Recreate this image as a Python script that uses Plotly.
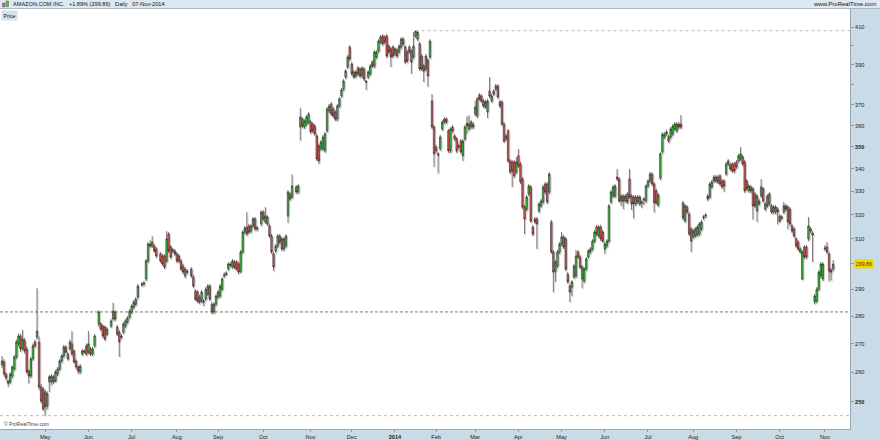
import math
import plotly.graph_objects as go

# ---------------- data ----------------
days = [*range(0, 46), *range(47, 52), *range(53, 67), *range(68, 76),
        *range(77, 91), *range(92, 125), *range(126, 142), *range(143, 405)]

opens = [
262.5, 263.6, 259.4, 257.0, 256.7, 258.7, 261.1, 265.3, 269.9, 272.7,
268.1, 271.0, 268.1, 260.4, 258.7, 264.6, 270.6, 272.3, 270.6, 255.0,
254.3, 253.3, 248.7, 256.7, 256.7, 258.4, 257.0, 259.4, 261.1, 263.9,
265.6, 268.8, 266.3, 268.1, 269.9, 267.4, 263.9, 261.8, 260.1, 266.3,
267.4, 269.2, 267.0, 268.1, 266.3, 269.2, 277.1, 277.1, 276.3, 276.0,
273.4, 276.3, 278.9, 281.5, 276.0, 274.1, 272.7, 274.1, 276.3, 277.8,
279.6, 281.5, 283.3, 284.4, 287.1, 291.7, 292.1, 294.0, 301.1, 307.9,
307.1, 307.1, 305.9, 303.9, 303.1, 303.1, 301.1, 312.0, 306.7, 305.1,
305.1, 303.9, 303.1, 301.1, 299.1, 295.2, 297.1, 297.9, 294.8, 289.4,
289.0, 287.1, 285.6, 285.6, 286.3, 288.2, 291.3, 284.4, 281.5, 284.4,
287.1, 287.5, 290.1, 295.2, 296.3, 297.9, 299.9, 298.7, 300.7, 300.7,
299.9, 297.1, 304.7, 312.8, 314.9, 315.3, 313.2, 315.3, 318.3, 314.1,
316.2, 321.2, 317.0, 316.2, 315.3, 311.2, 303.9, 305.1, 307.1, 311.2,
310.0, 305.9, 307.1, 319.5, 328.9, 327.6, 332.0, 329.8, 359.3, 363.1,
359.3, 360.7, 361.7, 361.7, 360.7, 359.8, 355.1, 350.5, 349.1, 349.1,
348.2, 357.5, 367.0, 370.4, 368.0, 366.5, 363.1, 369.4, 374.3, 377.8,
383.8, 388.9, 399.3, 390.5, 386.4, 384.4, 388.4, 387.9, 384.4, 387.9,
381.8, 383.8, 385.4, 391.5, 389.4, 394.1, 397.2, 402.0, 405.2, 404.6,
405.2, 399.8, 398.3, 399.3, 395.7, 397.7, 396.7, 399.3, 403.5, 399.3,
396.7, 399.3, 397.2, 394.1, 405.2, 403.5, 401.0, 394.6, 389.4, 387.9,
392.5, 394.1, 371.9, 359.3, 350.0, 346.8, 349.1, 358.4, 363.1, 363.1,
357.5, 348.2, 359.3, 355.1, 353.7, 350.5, 352.7, 345.9, 353.7, 361.2,
358.4, 359.3, 360.7, 365.5, 364.6, 374.8, 374.3, 371.9, 368.9, 366.5,
376.8, 371.9, 376.8, 377.8, 379.3, 371.4, 371.4, 360.7, 353.7, 357.5,
343.6, 343.1, 343.1, 338.6, 345.9, 342.2, 335.5, 323.3, 322.4, 328.9,
332.0, 314.9, 318.3, 318.3, 321.6, 323.8, 325.5, 333.3, 333.3, 329.8,
317.0, 304.7, 297.1, 299.1, 304.7, 307.9, 310.8, 310.0, 295.9, 291.3,
290.9, 294.8, 295.2, 304.7, 302.7, 294.0, 293.2, 297.9, 302.7, 304.7,
305.9, 309.1, 314.9, 311.2, 314.9, 312.8, 305.9, 307.1, 309.1, 325.5,
328.0, 328.0, 336.4, 335.5, 325.9, 328.0, 325.9, 328.9, 335.5, 328.0,
327.6, 324.6, 327.6, 324.6, 325.5, 326.8, 326.0, 332.4, 334.6, 337.7,
333.3, 330.3, 324.2, 335.9, 347.7, 354.6, 356.1, 354.6, 354.6, 356.1,
358.4, 357.5, 360.7, 360.7, 325.1, 317.4, 323.3, 320.3, 314.1, 310.8,
311.2, 311.6, 312.0, 314.1, 318.7, 319.5, 328.0, 327.6, 332.0, 336.4,
334.6, 336.4, 336.9, 334.6, 334.6, 337.7, 342.2, 341.8, 342.2, 342.2,
343.1, 343.6, 344.5, 345.4, 343.1, 334.6, 330.3, 332.0, 331.2, 328.9,
321.6, 325.9, 328.0, 331.2, 322.4, 328.0, 324.6, 323.8, 321.2, 321.2,
322.4, 319.5, 319.1, 321.2, 323.8, 323.3, 322.4, 315.3, 314.1, 310.0,
308.7, 304.7, 294.0, 306.7, 306.7, 310.0, 314.1, 312.4, 285.2, 285.6,
290.1, 295.2, 294.0, 305.9, 306.7, 303.9, 297.5, 297.9]

highs = [
265.6, 264.5, 259.8, 257.5, 260.0, 262.3, 266.0, 271.5, 273.7, 273.5,
275.0, 272.0, 269.0, 261.0, 265.3, 270.0, 271.5, 290.5, 272.5, 256.0,
255.0, 254.0, 253.5, 259.0, 259.5, 259.0, 260.8, 261.8, 264.5, 266.3,
269.5, 269.5, 267.0, 271.5, 274.5, 268.0, 264.5, 262.3, 262.8, 268.1,
268.0, 270.0, 274.5, 268.8, 268.8, 273.5, 282.2, 277.8, 277.0, 276.5,
276.0, 278.9, 285.0, 282.2, 276.7, 274.8, 273.4, 277.8, 278.9, 280.0,
282.6, 284.4, 286.0, 287.1, 292.1, 292.9, 293.2, 301.9, 308.7, 309.5,
311.2, 307.9, 306.7, 304.7, 303.9, 303.9, 313.2, 312.8, 307.5, 306.3,
305.9, 304.7, 303.9, 301.9, 299.9, 298.7, 297.9, 298.7, 295.6, 290.1,
289.8, 287.9, 289.8, 286.3, 290.9, 292.1, 292.1, 285.2, 285.2, 288.2,
289.8, 292.1, 294.8, 296.7, 297.1, 300.7, 300.7, 301.9, 301.5, 301.5,
300.7, 305.5, 313.6, 315.3, 321.2, 316.2, 316.2, 319.1, 319.1, 315.3,
322.0, 322.0, 323.3, 319.9, 316.2, 312.0, 304.7, 307.9, 312.0, 312.0,
310.8, 310.8, 312.0, 330.7, 329.8, 337.5, 332.9, 333.3, 368.5, 364.1,
363.1, 365.0, 366.5, 362.6, 361.7, 360.7, 356.1, 351.4, 353.2, 355.5,
357.0, 368.9, 370.4, 371.4, 369.0, 367.5, 370.4, 373.8, 378.3, 382.8,
387.9, 395.2, 400.3, 391.5, 387.4, 387.4, 389.4, 388.9, 389.4, 388.9,
382.3, 387.4, 390.5, 392.5, 397.7, 397.7, 403.5, 405.6, 406.2, 405.6,
406.2, 400.8, 399.3, 400.3, 399.3, 398.8, 400.8, 404.6, 404.6, 400.3,
397.7, 400.3, 398.3, 407.3, 408.0, 407.8, 402.0, 395.7, 390.4, 395.7,
393.5, 403.5, 375.3, 360.3, 351.0, 347.7, 355.6, 362.6, 364.1, 364.1,
358.4, 359.3, 360.3, 356.1, 354.6, 351.4, 353.7, 353.7, 360.3, 364.5,
365.0, 362.6, 361.7, 372.0, 373.8, 375.8, 375.3, 372.9, 372.4, 372.9,
383.8, 375.3, 377.8, 380.3, 380.3, 372.4, 372.4, 361.7, 356.1, 358.4,
344.5, 344.0, 344.0, 345.4, 349.1, 343.1, 336.4, 324.2, 328.5, 333.3,
332.9, 315.8, 319.1, 319.1, 325.5, 326.8, 332.9, 334.2, 334.2, 338.6,
317.9, 305.5, 301.5, 305.5, 308.7, 312.8, 311.6, 310.8, 296.7, 292.1,
293.6, 299.9, 305.5, 305.5, 303.5, 299.5, 298.7, 302.7, 305.9, 306.7,
309.9, 313.6, 315.8, 315.8, 315.8, 313.6, 308.7, 309.9, 324.6, 330.7,
332.9, 333.3, 340.0, 336.4, 328.9, 328.9, 328.9, 329.8, 340.0, 328.9,
328.5, 328.5, 328.5, 328.5, 326.4, 327.6, 333.3, 335.5, 338.6, 338.6,
334.2, 331.2, 329.4, 347.7, 356.9, 356.9, 358.0, 355.6, 359.3, 360.7,
361.7, 361.7, 361.7, 365.0, 326.0, 324.6, 324.2, 321.2, 314.9, 314.1,
314.9, 315.8, 317.0, 317.9, 320.0, 320.8, 328.9, 334.2, 335.1, 337.3,
337.3, 337.3, 337.7, 335.5, 335.5, 343.1, 344.5, 342.7, 343.1, 343.1,
344.0, 346.8, 350.0, 346.3, 344.0, 335.5, 333.3, 332.9, 332.0, 329.8,
328.9, 326.8, 335.5, 332.0, 325.5, 328.9, 329.8, 324.6, 324.2, 324.2,
323.3, 320.3, 320.0, 325.5, 324.6, 324.2, 323.3, 316.2, 314.9, 310.8,
309.5, 306.7, 305.5, 307.5, 307.5, 319.1, 315.0, 313.2, 288.2, 290.9,
297.5, 300.7, 300.7, 307.5, 308.7, 304.7, 298.3, 301.5]

lows = [
261.5, 258.5, 257.0, 255.0, 256.0, 258.0, 260.5, 264.5, 269.0, 267.0,
267.5, 266.5, 259.5, 256.2, 258.0, 264.0, 268.5, 271.5, 254.0, 249.5,
247.0, 245.5, 247.5, 253.3, 255.5, 256.0, 256.5, 258.7, 260.5, 263.2,
265.0, 266.5, 264.0, 267.5, 265.5, 263.0, 261.0, 259.4, 259.4, 265.6,
266.5, 265.6, 266.3, 265.6, 265.6, 268.5, 276.0, 274.5, 272.0, 271.0,
272.7, 275.6, 278.2, 278.2, 272.7, 265.3, 271.6, 273.4, 275.6, 277.1,
279.0, 280.8, 282.6, 283.7, 286.3, 291.0, 291.3, 293.2, 300.3, 306.3,
306.3, 304.3, 302.3, 300.3, 299.1, 297.9, 300.3, 304.3, 301.9, 304.3,
303.1, 300.3, 300.3, 297.1, 295.9, 294.4, 295.9, 294.4, 290.5, 285.6,
284.8, 284.4, 284.8, 283.7, 285.6, 287.5, 285.6, 280.7, 280.8, 283.7,
286.3, 286.7, 289.4, 294.4, 295.2, 297.1, 298.7, 297.9, 297.9, 297.1,
295.9, 296.3, 303.9, 312.0, 311.2, 312.0, 312.4, 314.5, 313.2, 313.2,
315.3, 317.4, 316.2, 315.3, 310.4, 303.9, 297.1, 304.3, 306.3, 307.9,
305.1, 305.1, 306.3, 316.6, 326.0, 326.8, 328.9, 328.9, 353.0, 358.8,
358.4, 359.8, 360.7, 356.1, 356.5, 355.1, 343.6, 342.2, 348.2, 348.2,
347.3, 356.5, 366.0, 364.6, 363.6, 362.1, 362.1, 368.5, 373.3, 376.8,
382.8, 387.9, 392.0, 384.4, 382.8, 383.3, 384.4, 383.3, 383.3, 381.8,
377.3, 382.8, 384.4, 388.4, 388.4, 393.1, 396.2, 401.0, 400.0, 401.0,
393.6, 395.7, 388.9, 393.6, 394.6, 393.6, 395.7, 398.3, 399.8, 390.5,
391.0, 395.7, 385.4, 393.1, 404.1, 402.5, 386.9, 386.9, 381.3, 386.9,
379.0, 393.1, 358.4, 340.9, 347.2, 338.0, 348.2, 357.5, 360.7, 360.7,
347.2, 347.2, 356.5, 352.7, 347.2, 349.1, 346.8, 343.6, 352.7, 356.0,
357.5, 358.4, 358.4, 364.6, 363.6, 371.9, 370.9, 368.5, 368.0, 363.6,
373.3, 370.9, 374.3, 376.8, 372.9, 368.5, 359.8, 351.8, 352.7, 342.7,
337.7, 332.0, 336.0, 337.7, 340.4, 333.3, 322.4, 312.0, 321.6, 328.0,
316.6, 311.2, 316.2, 305.9, 320.8, 323.0, 324.6, 328.9, 324.6, 328.9,
303.9, 289.0, 293.0, 298.3, 303.9, 307.1, 305.9, 297.1, 292.1, 285.2,
287.5, 294.0, 294.4, 301.9, 297.9, 290.5, 292.5, 297.1, 301.9, 303.9,
305.1, 308.3, 311.2, 310.4, 309.1, 308.3, 303.9, 306.3, 308.3, 324.6,
327.2, 327.2, 334.6, 325.1, 323.8, 322.4, 325.1, 324.6, 326.8, 322.0,
318.5, 323.8, 324.6, 323.8, 322.9, 324.2, 325.1, 331.6, 333.8, 332.4,
321.0, 324.2, 323.3, 335.0, 346.8, 353.7, 355.1, 351.8, 353.7, 355.1,
357.5, 356.5, 358.4, 358.4, 317.8, 316.6, 320.3, 311.2, 304.7, 310.0,
310.4, 310.8, 311.2, 313.2, 317.8, 318.7, 325.9, 326.8, 331.2, 333.8,
333.8, 333.3, 332.4, 331.2, 329.8, 336.9, 341.3, 339.1, 338.2, 338.2,
340.0, 342.7, 343.6, 341.3, 329.4, 330.3, 329.4, 329.4, 318.0, 322.9,
317.0, 323.8, 327.2, 325.1, 321.6, 322.9, 323.8, 320.3, 320.3, 320.3,
316.0, 316.6, 318.0, 320.3, 321.6, 314.0, 315.3, 312.4, 310.4, 306.3,
305.1, 303.9, 293.6, 301.9, 301.9, 309.1, 312.4, 300.7, 284.4, 284.8,
289.4, 294.4, 293.2, 305.1, 303.9, 293.0, 293.5, 297.1]

closes = [
263.9, 259.4, 258.0, 256.2, 259.4, 261.8, 265.3, 270.6, 272.7, 268.1,
271.6, 267.4, 260.1, 258.7, 264.6, 269.2, 269.2, 274.5, 255.0, 250.3,
247.7, 248.4, 252.7, 258.4, 258.7, 256.7, 260.1, 261.1, 263.9, 265.6,
268.8, 267.0, 264.6, 270.6, 266.3, 263.5, 261.8, 260.4, 262.1, 267.4,
267.0, 266.3, 269.9, 266.3, 268.1, 272.7, 281.5, 275.2, 272.7, 271.6,
275.2, 278.2, 281.8, 278.9, 273.4, 270.6, 272.3, 277.1, 278.2, 279.3,
281.8, 283.7, 285.2, 286.3, 291.3, 292.1, 292.5, 301.1, 307.9, 307.1,
308.7, 305.1, 303.1, 301.1, 299.9, 298.7, 310.0, 305.1, 302.7, 305.5,
303.9, 301.1, 301.1, 297.9, 296.7, 297.9, 296.7, 295.2, 291.3, 286.3,
285.6, 285.2, 289.0, 285.2, 290.1, 291.3, 286.3, 281.5, 284.4, 287.5,
289.0, 291.3, 294.0, 295.6, 295.9, 299.9, 299.5, 301.1, 298.7, 297.9,
296.7, 304.7, 312.8, 314.5, 312.0, 312.8, 315.3, 318.3, 314.1, 314.5,
321.2, 318.3, 319.5, 319.1, 311.2, 304.7, 298.7, 307.1, 311.2, 308.7,
305.9, 310.0, 311.2, 329.8, 326.8, 332.4, 329.8, 332.4, 364.1, 359.8,
362.1, 364.1, 365.5, 357.0, 357.5, 356.1, 344.5, 343.6, 352.3, 354.6,
356.1, 368.0, 369.4, 365.5, 364.6, 363.1, 369.4, 372.9, 377.3, 381.8,
386.9, 394.1, 393.1, 385.4, 383.8, 386.4, 385.4, 384.4, 388.4, 382.8,
381.3, 386.4, 389.4, 389.4, 396.7, 396.7, 402.5, 404.6, 401.0, 402.0,
394.6, 396.7, 394.1, 394.6, 398.3, 394.6, 399.8, 403.5, 400.9, 391.5,
392.0, 396.7, 391.5, 399.8, 407.8, 407.3, 387.9, 387.9, 386.9, 394.6,
384.4, 402.5, 359.3, 346.8, 348.2, 346.3, 354.6, 361.7, 361.7, 361.7,
348.2, 358.4, 357.5, 353.7, 348.2, 350.0, 347.7, 352.7, 359.3, 359.8,
360.7, 361.7, 359.3, 368.9, 372.9, 372.9, 371.9, 369.4, 371.4, 371.9,
374.3, 374.3, 375.3, 379.3, 373.8, 369.4, 360.7, 352.7, 355.1, 343.6,
338.6, 339.0, 336.9, 343.1, 341.3, 334.2, 323.3, 318.3, 327.6, 332.4,
317.4, 312.0, 317.0, 316.2, 324.6, 325.9, 332.0, 329.8, 325.5, 337.7,
304.7, 296.7, 300.7, 304.7, 307.9, 310.8, 306.7, 297.9, 292.9, 289.0,
292.9, 299.1, 303.1, 302.7, 298.7, 298.7, 297.9, 301.9, 305.1, 305.9,
309.1, 312.8, 312.0, 314.9, 310.0, 309.1, 307.9, 309.1, 323.8, 329.8,
332.0, 332.4, 335.5, 325.9, 328.0, 325.9, 328.0, 325.5, 327.6, 324.6,
324.6, 327.6, 325.5, 327.6, 325.1, 326.4, 332.4, 334.6, 337.7, 333.3,
325.1, 325.1, 328.5, 346.8, 355.9, 355.9, 357.0, 352.7, 358.4, 359.8,
360.7, 360.7, 359.3, 359.3, 318.7, 323.8, 321.2, 312.0, 309.1, 313.2,
314.1, 314.9, 316.2, 317.0, 319.1, 319.9, 326.8, 333.3, 334.2, 334.6,
336.4, 334.2, 333.3, 332.0, 332.4, 342.2, 343.6, 340.0, 339.1, 339.1,
340.9, 345.9, 346.8, 342.2, 330.3, 331.2, 332.4, 330.3, 323.8, 323.8,
328.0, 324.6, 332.0, 325.9, 324.6, 323.8, 328.9, 321.2, 323.3, 323.3,
321.2, 317.4, 318.7, 323.8, 322.4, 317.0, 316.2, 313.2, 311.2, 307.1,
305.9, 305.9, 304.7, 302.7, 302.7, 315.3, 313.2, 311.6, 287.5, 290.1,
296.7, 299.9, 299.9, 306.3, 304.7, 297.1, 296.7, 299.86]

support_level = 281.5
month_tick_days = [21, 42, 63, 85, 105, 127, 150, 170, 191, 211,
                   230, 251, 272, 293, 314, 336, 357, 378, 400]
month_labels = ["May", "Jun", "Jul", "Aug", "Sep", "Oct", "Nov", "Dec", "<b>2014</b>",
                "Feb", "Mar", "Apr", "May", "Jun", "Jul", "Aug", "Sep", "Oct", "Nov"]
price_ticks = [250, 260, 270, 280, 290, 300, 310, 320, 330, 340, 350, 360, 370, 380, 390, 400, 410]
price_labels = ["<b>250</b>", "260", "270", "280", "290", "", "310", "320", "330", "340",
                "<b>350</b>", "360", "370", "", "390", "", "410"]
sp = "\u00a0\u00a0\u00a0"
title_text = f"AMAZON.COM INC.{sp}+1.89% (299.86){sp}Daily{sp}07-Nov-2014"

n = len(days)
assert all(len(a) == n for a in (opens, highs, lows, closes)), (n, len(opens), len(highs), len(lows), len(closes))

# ---------------- figure ----------------
FONT = "Liberation Sans, Arial, sans-serif"
X_RANGE = [-0.97, 412.2]
Y_RANGE = [2.3824, 2.6231]
SHADOW_DX = 0.5          # shadow offset (in day units) handled via axis ranges
SHADOW_DY = 0.0007       # in log10 units

fig = go.Figure()

# gray 3D-like shadow behind candles (base axes, offset ranges)
fig.add_trace(go.Candlestick(
    x=days, open=opens, high=highs, low=lows, close=closes,
    xaxis="x", yaxis="y",
    increasing=dict(line=dict(color="#cfcfcf", width=1), fillcolor="#cfcfcf"),
    decreasing=dict(line=dict(color="#cfcfcf", width=1), fillcolor="#cfcfcf"),
    hoverinfo="skip", showlegend=False,
))

# main candles
fig.add_trace(go.Candlestick(
    x=days, open=opens, high=highs, low=lows, close=closes,
    xaxis="x2", yaxis="y2",
    increasing=dict(line=dict(color="#222222", width=0.6), fillcolor="#3fd43f"),
    decreasing=dict(line=dict(color="#331818", width=0.6), fillcolor="#e46868"),
    whiskerwidth=0, showlegend=False,
))

hi = max(highs)
lo = min(lows)
hi_day = days[highs.index(hi)]

fig.add_trace(go.Scatter(x=[hi_day, X_RANGE[1]], y=[hi, hi], mode="lines",
                         line=dict(color="#bdbdbd", width=1, dash="dot"),
                         xaxis="x2", yaxis="y2", hoverinfo="skip", showlegend=False))
fig.add_trace(go.Scatter(x=[X_RANGE[0], X_RANGE[1]], y=[lo, lo], mode="lines",
                         line=dict(color="#bdbdbd", width=1, dash="dot"),
                         xaxis="x2", yaxis="y2", hoverinfo="skip", showlegend=False))
fig.add_trace(go.Scatter(x=[X_RANGE[0], X_RANGE[1]], y=[support_level, support_level], mode="lines",
                         line=dict(color="#555555", width=0.8, dash="3px,2px"),
                         xaxis="x2", yaxis="y2", hoverinfo="skip", showlegend=False))

axis_font = dict(family=FONT, size=5.6, color="#222222")

fig.update_layout(
    width=880, height=440,
    margin=dict(l=0, r=30, t=9, b=11, pad=0, autoexpand=False),
    paper_bgcolor="#c9dbe6",
    plot_bgcolor="white",
    showlegend=False,
    boxgap=0.0,
    font=dict(family=FONT),
    xaxis=dict(range=[X_RANGE[0] - SHADOW_DX, X_RANGE[1] - SHADOW_DX], visible=False,
               automargin=False, rangeslider=dict(visible=False), fixedrange=True),
    yaxis=dict(type="log", range=[Y_RANGE[0] + SHADOW_DY, Y_RANGE[1] + SHADOW_DY],
               visible=False, automargin=False, fixedrange=True),
    xaxis2=dict(range=X_RANGE, overlaying="x", anchor="y2", side="bottom", automargin=False,
                tickmode="array", tickvals=month_tick_days, ticktext=month_labels,
                ticks="outside", ticklen=2, tickcolor="#8a9aa8", tickfont=axis_font,
                showgrid=False, zeroline=False, showline=True, linecolor="#98a8b5",
                linewidth=1, mirror=True, rangeslider=dict(visible=False), fixedrange=True),
    yaxis2=dict(type="log", range=Y_RANGE, overlaying="y", anchor="x2", side="right", automargin=False,
                tickmode="array", tickvals=price_ticks, ticktext=price_labels,
                ticks="outside", ticklen=3, tickcolor="#8a9aa8", tickfont=axis_font,
                showgrid=False, zeroline=False, showline=True, linecolor="#98a8b5",
                linewidth=1, mirror=True, fixedrange=True),
)

PW, PH = 850.0, 420.0  # plot area in px

shapes = [
    # header band
    dict(type="rect", xref="paper", yref="paper", x0=0, x1=880 / PW, y0=1, y1=1 + 9 / PH,
         fillcolor="#dde8f0", line=dict(width=0), layer="below"),
    dict(type="line", xref="paper", yref="paper", x0=0, x1=880 / PW, y0=1 + 0.5 / PH, y1=1 + 0.5 / PH,
         line=dict(color="#a9bac7", width=1)),
    # small candle icon in header
    dict(type="rect", xref="paper", yref="paper", x0=2.5 / PW, x1=5 / PW, y0=1 + 2 / PH, y1=1 + 6 / PH,
         fillcolor="#e06666", line=dict(color="#555", width=0.5)),
    dict(type="rect", xref="paper", yref="paper", x0=6 / PW, x1=8.5 / PW, y0=1 + 2.5 / PH, y1=1 + 8 / PH,
         fillcolor="#3dcf3d", line=dict(color="#555", width=0.5)),
]
fig.update_layout(shapes=shapes)

annotations = [
    dict(text=title_text, xref="paper", yref="paper", x=11 / PW, y=1 + 4.6 / PH,
         xanchor="left", yanchor="middle", showarrow=False,
         font=dict(family=FONT, size=5.6, color="#111111")),
    dict(text="www.ProRealTime.com", xref="paper", yref="paper", x=878 / PW, y=1 + 4.6 / PH,
         xanchor="right", yanchor="middle", showarrow=False,
         font=dict(family=FONT, size=6, color="#111111")),
    dict(text="Price", xref="paper", yref="paper", x=0.5 / PW, y=1 - 0.5 / PH,
         xanchor="left", yanchor="top", showarrow=False, bgcolor="#d4e0ea",
         borderpad=1.5, font=dict(family=FONT, size=5.3, color="#222")),
    dict(text="© ProRealTime.com", xref="paper", yref="paper", x=1.5 / PW, y=5 / PH,
         xanchor="left", yanchor="middle", showarrow=False,
         font=dict(family=FONT, size=5, color="#444")),
    dict(text=f"{closes[-1]:.2f}", xref="paper", yref="y2", x=1 + 4 / PW, y=math.log10(closes[-1]),
         xanchor="left", yanchor="middle", showarrow=False, bgcolor="#f2d600",
         borderpad=0.8, font=dict(family=FONT, size=5.3, color="#4a4000")),
]
fig.update_layout(annotations=annotations)

fig.write_html(
    "out.html",
    config={"displayModeBar": False},
    post_script="document.body.style.margin='0';document.body.style.padding='0';"
                "document.body.style.overflow='hidden';",
)
